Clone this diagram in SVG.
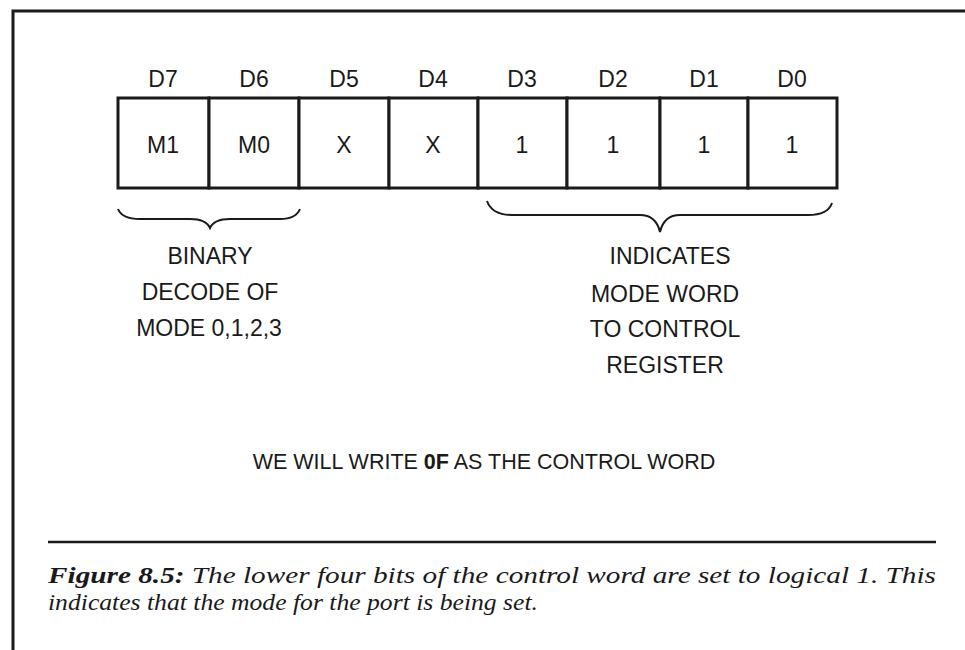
<svg xmlns="http://www.w3.org/2000/svg" width="965" height="650" viewBox="0 0 965 650">
<style>
.t{font-family:"Liberation Sans",Arial,sans-serif;font-size:23px;fill:#1a1a1a;text-anchor:middle}
.n{font-size:21.5px}
.cell{fill:#fff;stroke:#1a1a1a;stroke-width:3}
.br{fill:none;stroke:#1a1a1a;stroke-width:2}
.cap{font-family:"Liberation Serif","Times New Roman",serif;font-style:italic;font-size:24px;fill:#1a1a1a}
</style>
<rect x="0" y="0" width="965" height="650" fill="#fff"/>
<g id="frame">
<polyline points="13,650 13,11 965,11" fill="none" stroke="#1a1a1a" stroke-width="3"/>
</g>
<g id="bit-D7"><rect class="cell" x="118" y="98" width="91" height="90"/><text class="t" x="163" y="87">D7</text><text class="t" x="163" y="153">M1</text></g>
<g id="bit-D6"><rect class="cell" x="209" y="98" width="90" height="90"/><text class="t" x="254" y="87">D6</text><text class="t" x="254" y="153">M0</text></g>
<g id="bit-D5"><rect class="cell" x="299" y="98" width="90" height="90"/><text class="t" x="344" y="87">D5</text><text class="t" x="344" y="153">X</text></g>
<g id="bit-D4"><rect class="cell" x="389" y="98" width="89" height="90"/><text class="t" x="433" y="87">D4</text><text class="t" x="433" y="153">X</text></g>
<g id="bit-D3"><rect class="cell" x="478" y="98" width="89" height="90"/><text class="t" x="522" y="87">D3</text><text class="t" x="522" y="153">1</text></g>
<g id="bit-D2"><rect class="cell" x="567" y="98" width="93" height="90"/><text class="t" x="613" y="87">D2</text><text class="t" x="613" y="153">1</text></g>
<g id="bit-D1"><rect class="cell" x="660" y="98" width="88" height="90"/><text class="t" x="704" y="87">D1</text><text class="t" x="704" y="153">1</text></g>
<g id="bit-D0"><rect class="cell" x="748" y="98" width="89" height="90"/><text class="t" x="792" y="87">D0</text><text class="t" x="792" y="153">1</text></g>
<g id="connectors">
<path class="br" d="M118,209 Q122,219 140,219 L190,219 Q206,219 210,228 Q214,219 230,219 L280,219 Q296,219 300,209"/>
<path class="br" d="M487,201 Q492,215 512,215 L640,215 Q656,215 660,232 Q664,215 680,215 L808,215 Q828,215 832,203"/>
</g>
<g id="label-mode">
<text class="t" x="210" y="264">BINARY</text>
<text class="t" x="210" y="300">DECODE OF</text>
<text class="t" x="209" y="336">MODE 0,1,2,3</text>
</g>
<g id="label-indicates">
<text class="t" x="670" y="264">INDICATES</text>
<text class="t" x="665" y="302">MODE WORD</text>
<text class="t" x="665" y="337">TO CONTROL</text>
<text class="t" x="665" y="373">REGISTER</text>
</g>
<g id="note">
<text class="t n" x="484" y="469">WE WILL WRITE <tspan font-weight="bold">0F</tspan> AS THE CONTROL WORD</text>
</g>
<g id="caption">
<line x1="48" y1="542" x2="936" y2="542" stroke="#1a1a1a" stroke-width="2.5"/>
<text class="cap" x="48" y="583" textLength="888" lengthAdjust="spacingAndGlyphs"><tspan font-weight="bold">Figure 8.5:</tspan> The lower four bits of the control word are set to logical 1. This</text>
<text class="cap" x="48" y="610" textLength="490" lengthAdjust="spacingAndGlyphs">indicates that the mode for the port is being set.</text>
</g>
</svg>
